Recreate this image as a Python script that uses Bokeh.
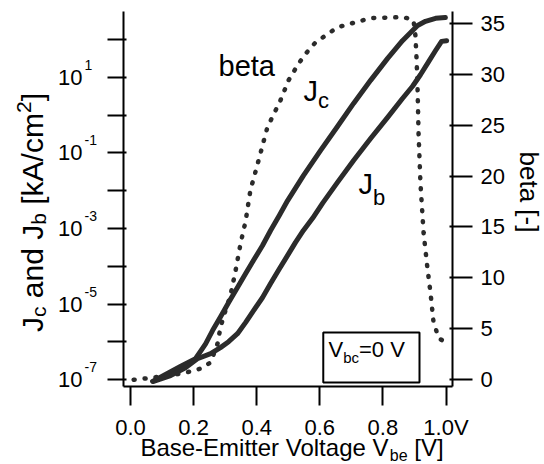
from math import pi, cos, sin, log10
from bokeh.plotting import figure
from bokeh.models import (Range1d, LinearAxis, LogAxis, LinearScale, FixedTicker,
                          CustomJSTickFormatter, BoxAnnotation)
from bokeh.core.properties import value
from bokeh.embed import file_html
from bokeh.resources import INLINE

FONT = "Liberation Sans"
CURVE = "#2b2b2b"

# ---------------- data ----------------
vbe_jc = [0.070, 0.111, 0.158, 0.206, 0.238, 0.260, 0.285, 0.311, 0.339, 0.365,
          0.390, 0.418, 0.444, 0.472, 0.498, 0.548, 0.602, 0.656, 0.707, 0.761,
          0.815, 0.862, 0.910, 0.935, 0.967, 0.998]
jc = [9.1e-8, 1.38e-7, 2.24e-7, 3.6e-7, 8.9e-7, 2.0e-6, 4.6e-6, 1.10e-5, 2.75e-5, 6.5e-5,
      1.45e-4, 3.5e-4, 8.9e-4, 2.24e-3, 5.5e-3, 2.5e-2, 0.115, 0.50, 2.04, 8.3,
      31.6, 93.0, 234.0, 302.0, 363.0, 380.0]

vbe_jb = [0.073, 0.127, 0.174, 0.212, 0.254, 0.285, 0.311, 0.339, 0.365, 0.390,
          0.418, 0.444, 0.472, 0.498, 0.523, 0.548, 0.577, 0.609, 0.656, 0.707,
          0.761, 0.815, 0.862, 0.894, 0.919, 0.945, 0.967, 0.986, 1.002]
jb = [9.1e-8, 1.29e-7, 2.09e-7, 3.6e-7, 4.9e-7, 7.1e-7, 1.02e-6, 1.66e-6, 3.3e-6, 6.8e-6,
      1.48e-5, 3.5e-5, 8.7e-5, 1.95e-4, 4.3e-4, 8.9e-4, 1.86e-3, 4.7e-3, 1.66e-2, 6.3e-2,
      0.24, 0.87, 2.75, 5.8, 11.7, 26.0, 51.0, 89.0, 93.0]

vbe_beta = [0.010, 0.048, 0.095, 0.143, 0.190, 0.222, 0.254, 0.276, 0.285, 0.301,
            0.317, 0.333, 0.349, 0.365, 0.380, 0.403, 0.434, 0.475, 0.501, 0.532,
            0.555, 0.586, 0.656, 0.761, 0.865, 0.897, 0.903, 0.907, 0.910, 0.913,
            0.919, 0.929, 0.941, 0.951, 0.960, 0.976, 0.992]
beta = [0.0, 0.13, 0.32, 0.52, 0.81, 1.1, 1.7, 3.56, 5.13, 6.8,
        8.3, 10.7, 13.4, 15.6, 18.6, 21.2, 24.8, 27.4, 29.4, 31.0,
        32.0, 33.1, 34.6, 35.5, 35.6, 35.3, 33.8, 31.3, 28.4, 24.2,
        19.3, 14.4, 11.0, 8.5, 5.8, 4.1, 3.8]

x_ticks = [0.0, 0.2, 0.4, 0.6, 0.8, 1.0]
j_ticks = [1e-7, 1e-6, 1e-5, 1e-4, 1e-3, 1e-2, 1e-1, 1e0, 1e1, 1e2]
j_labelled_exponents = [-7, -5, -3, -1, 1]
beta_ticks = [0, 5, 10, 15, 20, 25, 30, 35]

# ---------------- figure ----------------
FL, FT, FW, FH = 123, 11, 329, 375          # frame placement on the page
Y_LO, Y_HI = 10 ** -7.177, 10 ** 2.74
p = figure(frame_width=FW, frame_height=FH,
           min_border_left=FL, min_border_right=544 - FL - FW,
           min_border_top=FT, min_border_bottom=464 - FT - FH,
           x_range=Range1d(-0.0222, 1.0206),
           y_range=Range1d(Y_LO, Y_HI),
           y_axis_type="log", x_axis_location=None, y_axis_location=None,
           output_backend="svg", toolbar_location=None,
           background_fill_color="white", border_fill_color="white",
           outline_line_color=None)
p.grid.visible = False
p.extra_y_ranges = {"beta": Range1d(-0.66, 36.15), "py": Range1d(FT + FH, FT)}
p.extra_y_scales = {"beta": LinearScale(), "py": LinearScale()}
p.extra_x_ranges = {"px": Range1d(FL, FL + FW)}
p.extra_x_scales = {"px": LinearScale()}


def style(ax, tick_out, tick_in, standoff):
    ax.axis_line_width = 2
    ax.axis_line_color = "black"
    ax.major_tick_line_width = 2
    ax.major_tick_line_color = "black"
    ax.major_tick_out = tick_out
    ax.major_tick_in = tick_in
    ax.minor_tick_line_color = None
    ax.major_label_text_font = FONT
    ax.major_label_text_font_size = "22px"
    ax.major_label_text_color = "black"
    ax.major_label_standoff = standoff


xax = LinearAxis(ticker=FixedTicker(ticks=x_ticks),
                 formatter=CustomJSTickFormatter(code="return tick > 0.99 ? '1.0V' : tick.toFixed(1);"))
style(xax, 19, 0, 9)
p.add_layout(xax, "below")

yax = LogAxis(ticker=FixedTicker(ticks=j_ticks),
              formatter=CustomJSTickFormatter(
                  code="const e = Math.round(Math.log10(tick)); return (Math.abs(e) % 2 == 1) ? '10' : '';"))
style(yax, 16, 3, 25)
p.add_layout(yax, "left")

rax = LinearAxis(y_range_name="beta", ticker=FixedTicker(ticks=beta_ticks))
style(rax, 20, 3, 8)
p.add_layout(rax, "right")


def add_text(X, Y, txt, size, angle=0.0):
    # X, Y: wanted baseline start in page pixels from the top-left corner.
    # The renderer draws the baseline a little lower than asked, so lift it.
    lift = 0.22 * size + 3.5
    X += -sin(angle) * lift
    Y += -cos(angle) * lift
    p.text(x=[X], y=[Y], text=[txt], x_range_name="px", y_range_name="py",
           angle=angle, text_font=value(FONT), text_font_size=f"{size}px",
           text_align="left", text_baseline="alphabetic", text_color="black",
           level="overlay")


# exponents of the left tick labels, placed at the log-scale position of their tick
for k in j_labelled_exponents:
    frac = (k - log10(Y_LO)) / (log10(Y_HI) - log10(Y_LO))
    y_tick = FT + FH - frac * FH
    add_text(84, y_tick - 6, str(k), 14)

# ---------------- curves ----------------
p.line(vbe_jc, jc, line_width=5, line_color=CURVE, line_join="round", line_cap="round")
p.line(vbe_jb, jb, line_width=5, line_color=CURVE, line_join="round", line_cap="round")
p.line(vbe_beta, beta, y_range_name="beta", line_width=4.5, line_color=CURVE,
       line_dash="1 10", line_cap="round")

p.add_layout(BoxAnnotation(left=0.611, right=0.916, bottom=10 ** -7.07, top=10 ** -5.75,
                           fill_color=None, fill_alpha=0, line_color="black",
                           line_alpha=1.0, line_width=2))

# ---------------- texts ----------------
W = {' ': 278, 'J': 500, 'c': 500, 'a': 556, 'n': 556, 'd': 556, 'b': 556, '[': 278,
     ']': 278, 'k': 500, 'A': 667, '/': 278, 'm': 833, '2': 556, 'e': 556, 't': 278,
     '-': 333, 'V': 667, '=': 584, '0': 556, 'B': 667, 's': 500, 'E': 667, 'i': 222,
     'r': 333, 'o': 556, 'l': 222, 'g': 556}


def width(txt, size):
    return sum(W.get(ch, 556) for ch in txt) * size / 1000.0


def text_runs(parts, x0, y0, angle=0.0, center=False):
    total = sum(width(t, s) for t, s, _ in parts)
    dx, dy = cos(angle), -sin(angle)
    ux, uy = -sin(angle), -cos(angle)
    pos = -total / 2 if center else 0.0
    for txt, size, shift in parts:
        lead = len(txt) - len(txt.lstrip(' '))
        start = pos + width(' ' * lead, size)
        add_text(x0 + dx * start + ux * shift, y0 + dy * start + uy * shift,
                 txt.strip(' '), size, angle)
        pos += width(txt, size)


text_runs([("Base-Emitter Voltage V", 24, 0), ("be", 16, -6), (" [V]", 24, 0)], 291.5, 456, center=True)
text_runs([("J", 30, 0), ("c", 21, -4), (" and J", 30, 0), ("b", 21, -4),
           (" [kA/cm", 30, 0), ("2", 21, 10), ("]", 30, 0)], 42, 212, angle=pi / 2, center=True)
text_runs([("beta [-]", 26, 0)], 519.5, 191.5, angle=-pi / 2, center=True)
text_runs([("beta", 29, 0)], 218, 75)
text_runs([("J", 29, 0), ("c", 22, -8)], 303, 100)
text_runs([("J", 29, 0), ("b", 22, -12)], 358, 193)
text_runs([("V", 22, 0), ("bc", 15, -7), ("=0 V", 22, 0)], 328, 357)

open("out.html", "w").write(file_html(p, INLINE))
